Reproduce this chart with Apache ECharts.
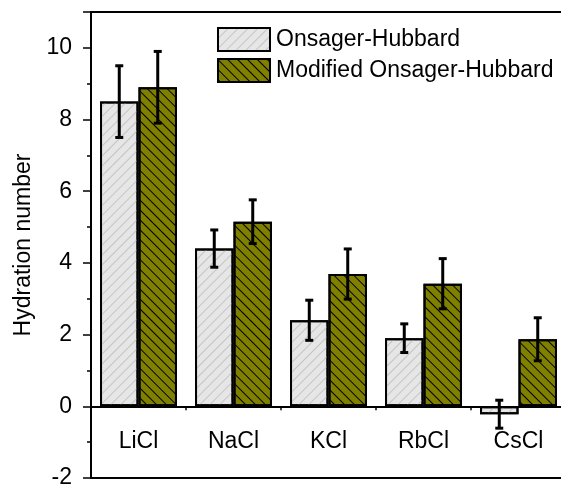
<!DOCTYPE html>
<html>
<head>
<meta charset="utf-8">
<script src="https://cdn.jsdelivr.net/npm/echarts@6/dist/echarts.min.js"></script>
<style>
html, body { margin: 0; padding: 0; background: #fff; overflow: hidden; }
#hydChart { width: 561px; height: 487px; }
</style>
</head>
<body>
<div id="hydChart"></div>
<script>
// salts on the x axis
var categories = ['LiCl', 'NaCl', 'KCl', 'RbCl', 'CsCl'];
// Onsager-Hubbard hydration numbers and errors
var ohValues = [8.5, 4.4, 2.4, 1.9, -0.22];
var ohErrors = [1.0, 0.52, 0.56, 0.4, 0.39];
// Modified Onsager-Hubbard
var modValues = [8.9, 5.15, 3.69, 3.42, 1.87];
var modErrors = [1.0, 0.61, 0.7, 0.7, 0.6];
var yTicks = [-2, 0, 2, 4, 6, 8, 10];

var FONT = '"Liberation Sans", Arial, sans-serif';
var CAT_GAP = 0.19; // barCategoryGap as fraction

var chart = echarts.init(document.getElementById('hydChart'));

// error bar data: [category index, value, error]
function errData(vals, errs) {
    var out = [];
    for (var i = 0; i < vals.length; i++) {
        out.push([i, vals[i], errs[i]]);
    }
    return out;
}

// draws one error bar, shifted to the left or right bar of the pair
function errRender(side) {
    return function (params, api) {
        var idx = api.value(0);
        var v = api.value(1);
        var e = api.value(2);
        var band = api.size([1, 0])[0];
        var shift = side * band * (1 - CAT_GAP) / 4;
        var top = api.coord([idx, v + e]);
        var bot = api.coord([idx, v - e]);
        var x = top[0] + shift;
        var cap = 4;
        var st = { stroke: '#000', lineWidth: 3 };
        return {
            type: 'group',
            children: [
                { type: 'line', shape: { x1: x, y1: top[1], x2: x, y2: bot[1] }, style: st },
                { type: 'line', shape: { x1: x - cap, y1: top[1], x2: x + cap, y2: top[1] }, style: st },
                { type: 'line', shape: { x1: x - cap, y1: bot[1], x2: x + cap, y2: bot[1] }, style: st }
            ]
        };
    };
}

// short ticks between categories on the zero line
function minorTickRender(params, api) {
    var idx = api.value(0);
    var band = api.size([1, 0])[0];
    var p = api.coord([idx, 0]);
    var x = p[0] + band / 2;
    return {
        type: 'line',
        shape: { x1: x, y1: p[1], x2: x, y2: p[1] + 4 },
        style: { stroke: '#000', lineWidth: 1.5 }
    };
}

var option = {
    animation: false,
    textStyle: { fontFamily: FONT },
    grid: {
        left: 91,
        right: -5,
        top: 12,
        bottom: 9,
        outerBoundsMode: 'none',
        containLabel: false,
        show: true,
        borderColor: '#000',
        borderWidth: 2
    },
    legend: {
        left: 212,
        top: 22,
        orient: 'vertical',
        itemWidth: 52,
        itemHeight: 23,
        itemGap: 6,
        icon: 'rect',
        data: ['Onsager-Hubbard', 'Modified Onsager-Hubbard'],
        textStyle: { fontFamily: FONT, fontSize: 23, color: '#000', padding: [0, 0, 0, 1] }
    },
    xAxis: {
        type: 'category',
        data: categories,
        axisLine: { onZero: true, lineStyle: { color: '#000', width: 2 } },
        axisTick: { alignWithLabel: true, length: 7, lineStyle: { color: '#000', width: 1.5 } },
        axisLabel: { color: '#000', fontSize: 23, fontFamily: FONT, margin: -48 },
        splitLine: { show: false }
    },
    yAxis: {
        type: 'value',
        min: -2,
        max: 11,
        interval: 2,
        name: 'Hydration number',
        nameLocation: 'middle',
        nameGap: 55,
        nameTextStyle: { color: '#000', fontSize: 23, fontFamily: FONT },
        axisLine: { show: true, lineStyle: { color: '#000', width: 2 } },
        axisTick: { show: true, length: 8, lineStyle: { color: '#000', width: 1.5 } },
        minorTick: { show: true, splitNumber: 2, length: 4, lineStyle: { color: '#000', width: 1.5 } },
        axisLabel: {
            color: '#000', fontSize: 23, fontFamily: FONT, margin: 19,
            showMaxLabel: false,
            formatter: function (v) { return yTicks.indexOf(v) >= 0 ? String(v) : ''; }
        },
        splitLine: { show: false }
    },
    series: [
        {
            name: 'Onsager-Hubbard',
            type: 'bar',
            data: ohValues,
            barGap: 0,
            barCategoryGap: (CAT_GAP * 100) + '%',
            itemStyle: {
                color: '#e6e6e6',
                borderColor: '#000',
                borderWidth: 2,
                decal: {
                    symbol: 'rect',
                    symbolSize: 1,
                    dashArrayX: [1, 0],
                    dashArrayY: [1, 6],
                    rotation: -Math.PI / 4,
                    color: '#c4c4c4'
                }
            }
        },
        {
            name: 'Modified Onsager-Hubbard',
            type: 'bar',
            data: modValues,
            barGap: 0,
            barCategoryGap: (CAT_GAP * 100) + '%',
            itemStyle: {
                color: '#808000',
                borderColor: '#000',
                borderWidth: 2,
                decal: {
                    symbol: 'rect',
                    symbolSize: 1,
                    dashArrayX: [1, 0],
                    dashArrayY: [1, 6],
                    rotation: Math.PI / 4,
                    color: '#000'
                }
            }
        },
        {
            type: 'custom',
            renderItem: errRender(-1),
            data: errData(ohValues, ohErrors),
            z: 5
        },
        {
            type: 'custom',
            renderItem: errRender(1),
            data: errData(modValues, modErrors),
            z: 5
        },
        {
            type: 'custom',
            renderItem: minorTickRender,
            data: categories.map(function (c, i) { return [i]; }),
            z: 5
        }
    ]
};

chart.setOption(option);
</script>
</body>
</html>
